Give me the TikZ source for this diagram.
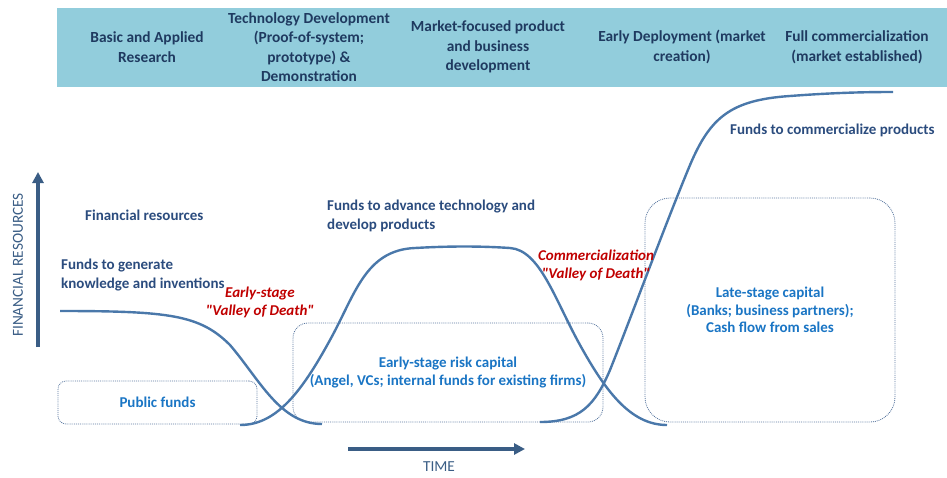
\documentclass[tikz,border=0pt]{standalone}
\usepackage{fontspec}
\setmainfont{Carlito}
\usetikzlibrary{arrows.meta}
\definecolor{bandblue}{HTML}{92CDDC}
\definecolor{headtext}{HTML}{1F3A60}
\definecolor{labeltext}{HTML}{2B4C7E}
\definecolor{capblue}{HTML}{1A75C4}
\definecolor{vodred}{HTML}{C00000}
\definecolor{curveblue}{HTML}{4A78AA}
\definecolor{axisblue}{HTML}{3A5D85}
\definecolor{dotblue}{HTML}{5A78A0}
\tikzset{
  stage/.style={text=headtext,font=\fontsize{15.4}{19.5}\selectfont\bfseries,align=center,inner sep=0pt},
  fundlabel/.style={text=labeltext,font=\fontsize{15}{19}\selectfont\bfseries,align=left,anchor=west,inner sep=0pt},
  valley/.style={text=vodred,font=\fontsize{15}{18}\selectfont\bfseries\itshape,align=center,inner sep=0pt},
  capbox/.style={draw=dotblue,line width=0.8pt,dash pattern=on 0.9pt off 1pt,text=capblue,
    font=\fontsize{15}{17.5}\selectfont\bfseries,align=center},
  fundcurve/.style={draw=curveblue,line width=2.4pt},
  axis/.style={draw=axisblue,line width=3.5pt,-{Triangle[length=11pt,width=11pt]}},
  axislabel/.style={text=axisblue,font=\fontsize{15.3}{17}\selectfont,inner sep=0pt}
}
\newcommand{\vq}{\textquotedbl}
\begin{document}
\begin{tikzpicture}[x=1pt,y=-1pt]
\useasboundingbox (0,0) rectangle (947,477);
% stage band
\fill[bandblue] (57,8) rectangle (947,87);
\node[stage] (basic) at (147,47) {Basic and Applied\\Research};
\node[stage] (tech) at (309,47) {Technology Development\\(Proof-of-system;\\prototype) \&\\Demonstration};
\node[stage] (market) at (488,47) {Market-focused product\\and business\\development};
\node[stage] (early) at (682,47) {Early Deployment (market\\creation)};
\node[stage] (full) at (857,47) {Full commercialization\\(market established)};
% axes
\coordinate (ybot) at (38,347);
\coordinate (ytop) at (38,172);
\coordinate (xleft) at (348,449);
\coordinate (xright) at (525,449);
\draw[axis] (ybot) -- (ytop);
\draw[axis] (xleft) -- (xright);
\node[axislabel,rotate=90] (fin) at (18,265) {FINANCIAL RESOURCES};
\node[axislabel] (time) at (439,467) {TIME};
% capital boxes
\node[capbox,rounded corners=8pt,minimum width=199pt,minimum height=43pt] (pub) at (157.5,402.5) {Public funds};
\node[capbox,rounded corners=15pt,minimum width=310pt,minimum height=99pt] (risk) at (448,372.5)
  {Early-stage risk capital\\(Angel, VCs; internal funds for existing firms)};
\node[capbox,rounded corners=25pt,minimum width=250pt,minimum height=224pt] (late) at (770,310)
  {Late-stage capital\\(Banks; business partners);\\Cash flow from sales};
% funding curves
\draw[fundcurve] (60,311) .. controls (170,311) and (200,315) .. (230,345)
  .. controls (260,380) and (280,424) .. (322,424);
\draw[fundcurve] (240,425) .. controls (275,425) and (300,395) .. (330,340)
  .. controls (355,295) and (365,250) .. (415,248)
  .. controls (450,246) and (480,246) .. (510,248)
  .. controls (540,250) and (555,300) .. (580,345)
  .. controls (605,390) and (630,425) .. (667,425);
\draw[fundcurve] (540,422) .. controls (580,422) and (595,405) .. (610,370)
  .. controls (630,320) and (665,225) .. (690,165)
  .. controls (710,118) and (730,100) .. (790,96)
  .. controls (830,93) and (860,92) .. (893,92);
% labels
\node[fundlabel] (finres) at (85,215) {Financial resources};
\node[fundlabel] (know) at (61,275) {Funds to generate\\knowledge and inventions};
\node[fundlabel] (adv) at (327,216) {Funds to advance technology and\\develop products};
\node[fundlabel] (comm) at (730,130) {Funds to commercialize products};
\node[valley] (vod1) at (260,302) {Early-stage\\\vq Valley of Death\vq};
\node[valley] (vod2) at (596,265) {Commercialization\\\vq Valley of Death\vq};
\end{tikzpicture}
\end{document}
